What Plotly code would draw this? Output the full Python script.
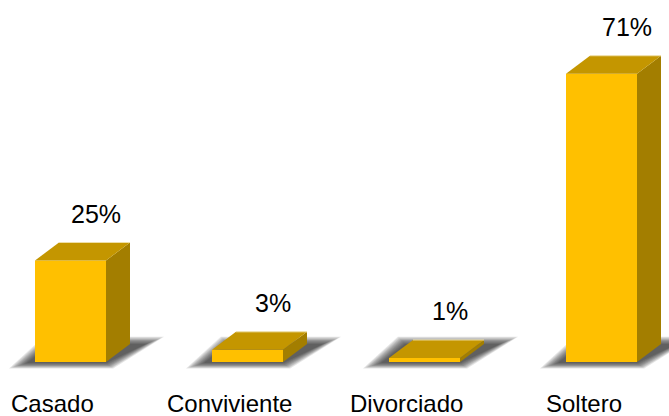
import plotly.graph_objects as go

# Marital status distribution (percent of respondents)
CATEGORIES = ["Casado", "Conviviente", "Divorciado", "Soltero"]
PERCENTS = [25, 3, 1, 71]
VALUE_LABELS = [f"{p}%" for p in PERCENTS]

FRONT = "#FFC000"
TOP = "#C49600"
SIDE = "#A37E00"
EDGE = "#EEDFA8"
FONT = "Liberation Sans, Arial, sans-serif"
VALUE_FONT_SIZE = 25
CAT_FONT_SIZE = 24

# Canvas geometry: axes are scaled so one category slot is SLOT_PX pixels wide
W, H = 669, 416
SLOT_PX = 177.0
FIRST_PX = 70.5
BASE_PX = 362.0
PX_PER_PCT = 4.06

X0 = -FIRST_PX / SLOT_PX
X1 = X0 + W / SLOT_PX
Y0 = -(H - BASE_PX) / PX_PER_PCT
Y1 = BASE_PX / PX_PER_PCT


def ux(px):
    return px / SLOT_PX


def uy(px):
    return px / PX_PER_PCT


BAR_W = ux(71)
DX = ux(24)   # depth of the 3D extrusion
DY = uy(18)

xs = list(range(len(CATEGORIES)))


def poly(points):
    return "M " + " L ".join(f"{x:.5f},{y:.5f}" for x, y in points) + " Z"


shapes = []
for i, v in zip(xs, PERCENTS):
    L, R = i - BAR_W / 2, i + BAR_W / 2

    # soft floor shadow: stacked translucent parallelograms
    n = 10
    for k in range(n):
        e = (n - 1 - k) * 2.0
        pts = [
            (L - ux(8 + e), -uy(1 + e * 0.3)),
            (R + ux(e * 0.4), -uy(1 + e * 0.3)),
            (R + ux(40 + e), uy(18 + e * 0.4)),
            (L + ux(16 - e * 0.4), uy(18 + e * 0.4)),
        ]
        shapes.append(dict(type="path", path=poly(pts), xref="x", yref="y",
                           fillcolor="#1a1a1a", opacity=0.11,
                           line=dict(width=0), layer="below"))

    # right side face
    shapes.append(dict(type="path", xref="x", yref="y", layer="above",
                       path=poly([(R, 0), (R + DX, DY), (R + DX, v + DY), (R, v)]),
                       fillcolor=SIDE, line=dict(width=0)))
    # top face
    shapes.append(dict(type="path", xref="x", yref="y", layer="above",
                       path=poly([(L, v), (L + DX, v + DY), (R + DX, v + DY), (R, v)]),
                       fillcolor=TOP, line=dict(width=0)))
    # light back edge of the top face
    shapes.append(dict(type="line", xref="x", yref="y", layer="above",
                       x0=L + DX, y0=v + DY, x1=R + DX, y1=v + DY,
                       line=dict(color=EDGE, width=1)))

fig = go.Figure(go.Bar(
    x=xs, y=PERCENTS, width=BAR_W,
    marker=dict(color=FRONT, line=dict(width=0)),
    hoverinfo="skip",
))

annotations = []
for i, v, lab in zip(xs, PERCENTS, VALUE_LABELS):
    cx_px = FIRST_PX + SLOT_PX * i + 25
    est_w = (0.556 * (len(lab) - 1) + 0.889) * VALUE_FONT_SIZE
    cx_px = min(cx_px, W - 2 - est_w / 2)
    annotations.append(dict(
        x=X0 + ux(cx_px), y=v, xref="x", yref="y", yshift=47,
        text=lab, showarrow=False, xanchor="center", yanchor="middle",
        borderpad=0,
        font=dict(family=FONT, size=VALUE_FONT_SIZE, color="#000000"),
    ))

for i, cat in zip(xs, CATEGORIES):
    annotations.append(dict(
        x=i - ux(18), y=-uy(403 - BASE_PX), xref="x", yref="y",
        text=cat, showarrow=False, xanchor="center", yanchor="middle",
        borderpad=0,
        font=dict(family=FONT, size=CAT_FONT_SIZE, color="#000000"),
    ))

fig.update_layout(
    width=W, height=H,
    margin=dict(l=0, r=0, t=0, b=0),
    paper_bgcolor="white", plot_bgcolor="white",
    showlegend=False,
    xaxis=dict(range=[X0, X1], visible=False, fixedrange=True),
    yaxis=dict(range=[Y0, Y1], visible=False, fixedrange=True),
    shapes=shapes,
    annotations=annotations,
)

fig.write_html("out.html", config={"displayModeBar": False})
